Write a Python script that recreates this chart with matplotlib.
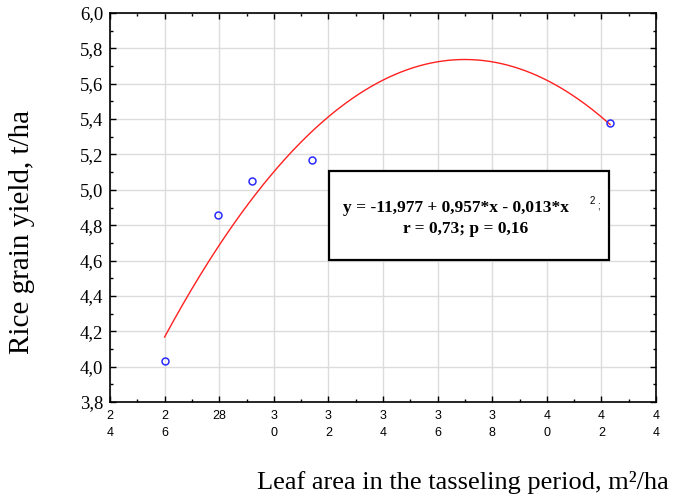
import numpy as np
import matplotlib.pyplot as plt
from matplotlib.ticker import MultipleLocator
from matplotlib.patches import Rectangle

# ================ data ================
# leaf area in the tasseling period (x) and rice grain yield (y)
LEAF_AREA = [26.0, 27.95, 29.2, 31.4, 42.32]
YIELD = [4.03, 4.86, 5.05, 5.17, 5.38]

# x ticks and their (oddly wrapped) labels
SCALE_X = [24, 26, 28, 30, 32, 34, 36, 38, 40, 42, 44]
SCALE_LABEL_X = ["2\n4", "2\n6", "28", "3\n0", "3\n2", "3\n4", "3\n6", "3\n8", "4\n0", "4\n2", "4\n4"]
SCALE_Y = [3.8, 4.0, 4.2, 4.4, 4.6, 4.8, 5.0, 5.2, 5.4, 5.6, 5.8, 6.0]
SCALE_LABEL_Y = ["3,8", "4,0", "4,2", "4,4", "4,6", "4,8", "5,0", "5,2", "5,4", "5,6", "5,8", "6,0"]

TITLE_X = "Leaf area in the tasseling period, m²/ha"
TITLE_Y = "Rice grain yield, t/ha"
EQ_LINE1 = "y = -11,977 + 0,957*x - 0,013*x"
EQ_LINE2 = "r = 0,73; p = 0,16"

SERIF = "Liberation Serif"
SANS = "Liberation Sans"
W, H = 674, 503


def px(x, y):
    # pixel position -> figure fraction
    return x / W, 1 - y / H


if __name__ == '__main__':
    fig = plt.figure(figsize=(W / 100, H / 100), dpi=100)
    ax = fig.add_axes([110 / W, 1 - 402 / H, (656 - 110) / W, (402 - 13) / H])

    # grid
    ax.grid(True, which='major', color='#dcdcdc', linewidth=1)
    ax.set_axisbelow(True)

    # quadratic fit through the points
    coef = np.polyfit(LEAF_AREA, YIELD, 2)
    xs = np.linspace(min(LEAF_AREA), max(LEAF_AREA), 300)
    ax.plot(xs, np.polyval(coef, xs), color='#ff2020', linewidth=1)

    ax.plot(LEAF_AREA, YIELD, linestyle='none', marker='o', markersize=5,
            markerfacecolor='none', markeredgecolor='#2b2bff', markeredgewidth=1.1)

    # axes
    ax.set_xlim(24, 44)
    ax.set_ylim(3.8, 6.0)
    ax.set_xticks(SCALE_X)
    ax.set_xticklabels(SCALE_LABEL_X, fontfamily=SANS, fontsize=9, linespacing=1.55)
    ax.set_yticks(SCALE_Y)
    ax.set_yticklabels(SCALE_LABEL_Y, fontfamily=SERIF, fontsize=13.5)
    ax.xaxis.set_minor_locator(MultipleLocator(1))
    ax.yaxis.set_minor_locator(MultipleLocator(0.1))
    ax.tick_params(which='both', direction='in', top=True, right=True, color='black')
    ax.tick_params(which='major', length=4, width=1)
    ax.tick_params(which='minor', length=2.5, width=1)
    ax.tick_params(axis='x', which='major', pad=6)
    ax.tick_params(axis='y', which='major', pad=5)
    for key in ['top', 'bottom', 'left', 'right']:
        ax.spines[key].set_linewidth(1.2)
        ax.spines[key].set_color('black')

    # equation box
    x0, y0 = px(329, 260)
    x1, y1 = px(609, 171)
    fig.patches.append(Rectangle((x0, y0), x1 - x0, y1 - y0, transform=fig.transFigure,
                                 fill=True, facecolor='white', edgecolor='black', linewidth=1.6))
    fig.text(*px(343, 208), EQ_LINE1, ha='left', va='center', fontfamily=SERIF,
             fontweight='bold', fontsize=12.5)
    fig.text(*px(592, 201), "2", ha='center', va='center', fontfamily=SANS, fontsize=7)
    fig.text(*px(598, 205), ";", ha='center', va='center', fontfamily=SANS, fontsize=7)
    fig.text(*px(466, 229), EQ_LINE2, ha='center', va='center', fontfamily=SERIF,
             fontweight='bold', fontsize=12.5)

    # axis titles
    fig.text(*px(463, 483), TITLE_X, ha='center', va='center', fontfamily=SERIF, fontsize=19)
    fig.text(*px(22, 232), TITLE_Y, ha='center', va='center', rotation=90,
             fontfamily=SERIF, fontsize=21)

    plt.savefig("out.png", dpi=100)
